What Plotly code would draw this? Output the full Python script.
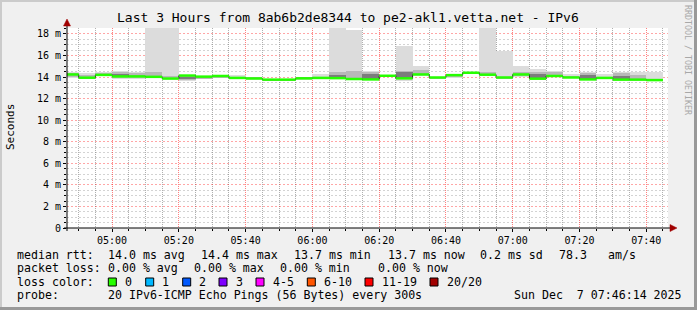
import plotly.graph_objects as go
import pandas as pd

# ---------------- data (5-minute steps, ms) ----------------
bar_start = pd.date_range("2025-12-07 04:45:00", periods=36, freq="5min")
median_ms = [14.24, 13.94, 14.20, 14.06, 14.06, 14.02, 13.86, 14.14, 14.04, 14.10,
             13.92, 13.87, 13.76, 13.76, 13.88, 13.92, 13.90, 13.82, 13.78, 14.12,
             13.88, 14.24, 13.96, 14.18, 14.40, 14.22, 13.96, 14.24, 13.85, 14.10,
             13.96, 13.78, 13.92, 13.76, 13.76, 13.72]
ping_min_ms = [13.95, 13.90, 14.10, 13.85, 13.80, 13.90, 13.80, 13.60, 13.80, 13.90,
               13.90, 13.80, 13.70, 13.70, 13.80, 13.85, 13.80, 13.75, 13.70, 14.00,
               13.60, 14.10, 13.85, 13.95, 14.30, 14.10, 13.85, 14.00, 13.80, 14.00,
               13.90, 13.75, 13.85, 13.75, 13.75, 13.65]
ping_max_ms = [14.50, 14.35, 14.50, 14.55, 14.45, 19.50, 19.50, 14.20, 14.10, 14.15,
               14.20, 13.95, 13.85, 13.85, 13.95, 14.28, 19.50, 18.37, 14.56, 14.20,
               16.90, 15.06, 14.05, 14.30, 14.45, 19.50, 16.45, 15.00, 14.78, 14.56,
               14.28, 14.50, 14.28, 14.44, 14.44, 14.50]
mid_lo_ms = [14.05, 13.92, 14.12, 13.95, 13.90, 13.95, 13.82, 13.75, 13.85, 13.95,
             13.90, 13.82, 13.72, 13.72, 13.82, 13.88, 13.85, 13.80, 13.75, 14.05,
             13.80, 14.15, 13.90, 14.00, 14.35, 14.15, 13.90, 14.10, 13.82, 14.02,
             13.92, 13.76, 13.88, 13.74, 13.74, 13.70]
mid_hi_ms = [14.42, 14.15, 14.40, 14.50, 14.40, 14.45, 14.10, 14.10, 14.05, 14.12,
             14.05, 13.92, 13.82, 13.82, 13.92, 14.00, 14.50, 14.60, 14.45, 14.18,
             14.55, 14.70, 14.02, 14.22, 14.42, 14.45, 14.05, 14.50, 14.50, 14.50,
             14.05, 14.40, 14.00, 14.38, 14.20, 13.85]
core_lo_ms = [14.24, 13.94, 14.20, 14.12, 14.06, 14.02, 13.86, 13.82, 14.04, 14.10,
              13.92, 13.87, 13.76, 13.76, 13.88, 13.92, 13.95, 13.82, 13.85, 14.12,
              13.95, 14.24, 13.96, 14.18, 14.40, 14.22, 13.96, 14.24, 13.90, 14.10,
              13.96, 13.80, 13.92, 13.80, 13.76, 13.72]
core_hi_ms = [14.24, 13.94, 14.20, 14.28, 14.06, 14.02, 13.86, 14.05, 14.04, 14.10,
              13.92, 13.87, 13.76, 13.76, 13.88, 13.92, 14.20, 13.82, 14.30, 14.12,
              14.45, 14.24, 13.96, 14.18, 14.40, 14.22, 13.96, 14.24, 14.30, 14.10,
              13.96, 14.15, 13.92, 14.10, 13.76, 13.72]

y_tick_step = 2
y_minor_step = 0.5

title_text = "Last 3 Hours from 8ab6b2de8344 to pe2-akl1.vetta.net - IPv6"
row1 = [("median rtt:", 16), ("14.0 ms avg", 107.3), ("14.4 ms max", 200.3),
        ("13.7 ms min", 293.3), ("13.7 ms now", 386.7), ("0.2 ms sd", 479.3),
        ("78.3", 558.3), ("am/s", 606.7)]
row2 = [("packet loss:", 16), ("0.00 % avg", 107.3), ("0.00 % max", 193.3),
        ("0.00 % min", 279.3), ("0.00 % now", 377.3)]
loss_labels = ["0", "1", "2", "3", "4-5", "6-10", "11-19", "20/20"]
loss_colors = ["#26ff00", "#00b8ff", "#0059ff", "#7e00ff", "#ff00ff", "#ff5500", "#ff0000", "#a10000"]
loss_box_x = [108.3, 145.7, 182.7, 219.0, 256.0, 307.3, 365.0, 430.0]
row4 = [("probe:", 16), ("20 IPv6-ICMP Echo Pings (56 Bytes) every 300s", 107.3),
        ("Sun Dec  7 07:46:14 2025", 513.3)]

# ---------------- geometry ----------------
W, H = 697, 310
L, R, T, B = 67, 668, 28, 228
FONT = "DejaVu Sans Mono"


def px(x):
    return (x - L) / (R - L)


def py(y):
    return (B - y) / (B - T)


step = pd.Timedelta(minutes=5)
centers = [s + step / 2 for s in bar_start]

fig = go.Figure()


def band(lo, hi, color):
    fig.add_trace(go.Bar(
        x=centers, y=[h - l for l, h in zip(lo, hi)], base=lo,
        width=300000, marker=dict(color=color, line=dict(width=0)),
        hoverinfo="skip", showlegend=False))


band(ping_min_ms, ping_max_ms, "#dcdcdc")
band(mid_lo_ms, mid_hi_ms, "#b8b8b8")
band(core_lo_ms, core_hi_ms, "#7c7c7c")

# dark step outline (vertical transitions)
xs = list(bar_start) + [bar_start[-1] + step]
ys = list(median_ms) + [median_ms[-1]]
fig.add_trace(go.Scatter(x=xs, y=ys, mode="lines", line=dict(color="#202020", width=1, shape="hv"),
                         hoverinfo="skip", showlegend=False))
# green median segments
gx, gy = [], []
for s, m in zip(bar_start, median_ms):
    gx += [s, s + step, None]
    gy += [m, m, None]
fig.add_trace(go.Scatter(x=gx, y=gy, mode="lines", line=dict(color="#26ff00", width=2.5),
                         hoverinfo="skip", showlegend=False))

minor_grid_x = "rgba(110,110,110,0.55)"
major_grid_x = "rgba(255,0,0,0.5)"
minor_grid_y = "rgba(130,130,130,0.35)"
major_grid_y = "rgba(255,0,0,0.35)"

fig.update_layout(
    width=W, height=H,
    margin=dict(l=L, r=W - R, t=T, b=H - B, pad=0),
    paper_bgcolor="#f0f0f0", plot_bgcolor="#ffffff",
    barmode="overlay", bargap=0,
    font=dict(family=FONT, size=10, color="#000000"),
    showlegend=False,
    xaxis=dict(
        type="date", range=["2025-12-07 04:46:30", "2025-12-07 07:46:30"],
        tick0="2025-12-07 05:00:00", dtick=1200000, tickformat="%H:%M",
        showgrid=True, gridcolor=major_grid_x, griddash="1px,1px", gridwidth=1,
        ticks="outside", ticklen=3, tickcolor="#000000",
        minor=dict(dtick=300000, tick0="2025-12-07 05:00:00", showgrid=True,
                   gridcolor=minor_grid_x, griddash="1px,1px", gridwidth=1, ticks="outside",
                   ticklen=2, tickcolor="#000000"),
        showline=False, zeroline=False, fixedrange=True,
        tickfont=dict(family=FONT, size=10),
    ),
    yaxis=dict(
        range=[0, 18.55], tickmode="linear", tick0=0, dtick=y_tick_step,
        ticksuffix=" m", labelalias={"0 m": "0"},
        showgrid=True, gridcolor=major_grid_y, griddash="2px,2px", gridwidth=1,
        ticks="outside", ticklen=3, tickcolor="#000000",
        minor=dict(tick0=0, dtick=y_minor_step, showgrid=True, gridcolor=minor_grid_y,
                   griddash="2px,2px", gridwidth=1, ticks="outside", ticklen=2,
                   tickcolor="#000000"),
        showline=False, zeroline=False, fixedrange=True,
        tickfont=dict(family=FONT, size=10),
    ),
)

shapes = []
# frame
shapes.append(dict(type="rect", xref="paper", yref="paper", x0=px(0), x1=px(697), y0=py(0), y1=py(2),
                   fillcolor="#cbcbcb", line=dict(width=0), layer="below"))
shapes.append(dict(type="rect", xref="paper", yref="paper", x0=px(0), x1=px(2), y0=py(0), y1=py(310),
                   fillcolor="#cbcbcb", line=dict(width=0), layer="below"))
shapes.append(dict(type="rect", xref="paper", yref="paper", x0=px(0), x1=px(697), y0=py(307), y1=py(310),
                   fillcolor="#999999", line=dict(width=0), layer="below"))
shapes.append(dict(type="rect", xref="paper", yref="paper", x0=px(694), x1=px(697), y0=py(0), y1=py(310),
                   fillcolor="#999999", line=dict(width=0), layer="below"))
# axes lines
shapes.append(dict(type="line", xref="paper", yref="paper", x0=px(64), x1=px(672), y0=py(228), y1=py(228),
                   line=dict(color="#000000", width=1)))
shapes.append(dict(type="line", xref="paper", yref="paper", x0=px(67), x1=px(67), y0=py(231), y1=py(24),
                   line=dict(color="#000000", width=1)))
# arrows
shapes.append(dict(type="path", xref="paper", yref="paper",
                   path=f"M {px(63.5)} {py(26)} L {px(70.5)} {py(26)} L {px(67)} {py(19)} Z",
                   fillcolor="#a00000", line=dict(color="#a00000", width=0.5)))
shapes.append(dict(type="path", xref="paper", yref="paper",
                   path=f"M {px(670)} {py(224.5)} L {px(670)} {py(231.5)} L {px(677)} {py(228)} Z",
                   fillcolor="#a00000", line=dict(color="#a00000", width=0.5)))
# loss colour boxes
for cx, col in zip(loss_box_x, loss_colors):
    shapes.append(dict(type="rect", xref="paper", yref="paper", x0=px(cx), x1=px(cx + 8),
                       y0=py(286), y1=py(278), fillcolor=col, line=dict(color="#000000", width=1)))
fig.update_layout(shapes=shapes)

ann = []
LF = 11.6
ann.append(dict(text=title_text, x=px(347.5), y=py(18), xref="paper", yref="paper",
                xanchor="center", yanchor="middle", showarrow=False,
                font=dict(family=FONT, size=13, color="#000000")))
ann.append(dict(text="Seconds", x=px(10), y=py(127), xref="paper", yref="paper",
                xanchor="center", yanchor="middle", showarrow=False, textangle=-90,
                font=dict(family=FONT, size=11, color="#000000")))
ann.append(dict(text="RRDTOOL / TOBI OETIKER", x=px(688), y=py(60), xref="paper", yref="paper",
                xanchor="center", yanchor="middle", showarrow=False, textangle=90,
                font=dict(family=FONT, size=8.3, color="#a8a8a8")))


def row(items, yc):
    for t, x in items:
        ann.append(dict(text=t.replace(" ", "&nbsp;"), x=px(x - 1), y=py(yc), xref="paper", yref="paper",
                        xanchor="left", yanchor="middle", showarrow=False,
                        font=dict(family=FONT, size=LF, color="#000000")))


row(row1, 254.7)
row(row2, 268)
row([("loss color:", 16)] + [(lab, bx + 15.7) for lab, bx in zip(loss_labels, loss_box_x)], 282)
row(row4, 295.3)

fig.update_layout(annotations=ann)
fig.write_html("out.html")
